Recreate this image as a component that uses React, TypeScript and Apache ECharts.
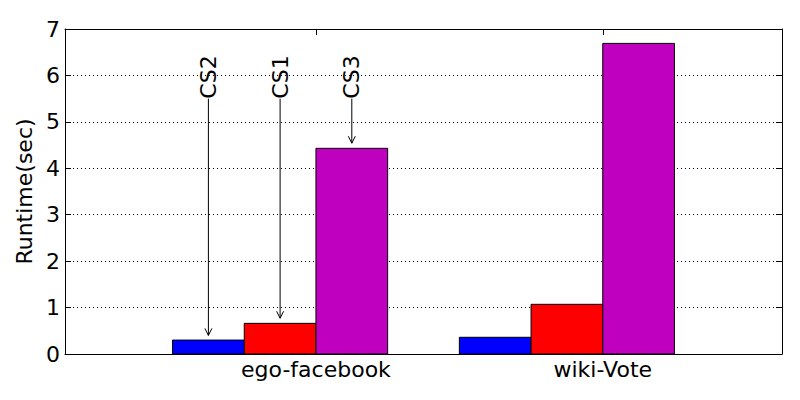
import React, { useEffect, useRef } from "react";
import * as echarts from "echarts";

const categories = ["ego-facebook", "wiki-Vote"];
const categoryTicks = [0.875, 1.875];
const groupStarts = [0.375, 1.375];
const barUnit = 0.25;
const seriesNames = ["CS2", "CS1", "CS3"];
const seriesColors = ["#0000ff", "#ff0000", "#bf00bf"];
const cs2Values = [0.3, 0.36];
const cs1Values = [0.66, 1.07];
const cs3Values = [4.43, 6.69];
const annotLabels = ["CS2", "CS1", "CS3"];
const annotX = [0.5, 0.75, 1.0];
const annotTextY = [5.5, 5.5, 5.5];
const annotTipY = [0.4, 0.77, 4.54];
const yTicks = [0, 1, 2, 3, 4, 5, 6, 7];

const FONT = "DejaVu Sans";
const FS = 22;

export default function App() {
  const ref = useRef<HTMLDivElement>(null);
  useEffect(() => {
    if (!ref.current) return;
    const chart = echarts.init(ref.current, null, { renderer: "svg" });
    const allValues = [cs2Values, cs1Values, cs3Values];
    const barSeries = allValues.map((vals, k) => ({
      type: "custom",
      name: seriesNames[k],
      xAxisIndex: 0,
      yAxisIndex: 0,
      data: groupStarts.map((g, i) => [g + k * barUnit, vals[i]]),
      encode: { x: 0, y: 1 },
      renderItem: (params: any, api: any) => {
        const x0 = api.value(0);
        const v = api.value(1);
        const p0 = api.coord([x0, v]);
        const p1 = api.coord([x0 + barUnit, 0]);
        return {
          type: "rect",
          shape: { x: p0[0], y: p0[1], width: p1[0] - p0[0], height: p1[1] - p0[1] },
          style: { fill: seriesColors[k], stroke: "#000", lineWidth: 1 },
        };
      },
    }));
    const annotSeries = {
      type: "custom",
      xAxisIndex: 0,
      yAxisIndex: 0,
      z: 10,
      data: annotX.map((x, i) => [x, annotTextY[i], annotTipY[i], i]),
      encode: { x: 0, y: 1 },
      renderItem: (params: any, api: any) => {
        const x = api.value(0);
        const pt = api.coord([x, api.value(1)]);
        const tip = api.coord([x, api.value(2)]);
        const idx = api.value(3);
        return {
          type: "group",
          children: [
            {
              type: "line",
              shape: { x1: pt[0], y1: pt[1], x2: tip[0], y2: tip[1] },
              style: { stroke: "#000", lineWidth: 1 },
            },
            {
              type: "polyline",
              shape: {
                points: [
                  [tip[0] - 3.5, tip[1] - 7],
                  [tip[0], tip[1]],
                  [tip[0] + 3.5, tip[1] - 7],
                ],
              },
              style: { stroke: "#000", lineWidth: 1, fill: "none" },
            },
            {
              type: "text",
              x: pt[0],
              y: pt[1],
              rotation: Math.PI / 2,
              style: {
                text: annotLabels[idx],
                fontSize: FS,
                fontFamily: FONT,
                fill: "#000",
                align: "left",
                verticalAlign: "middle",
              },
            },
          ],
        };
      },
    };
    const tickStyle = { color: "#000", width: 1 };
    chart.setOption({
      animation: false,
      backgroundColor: "#fff",
      textStyle: { fontFamily: FONT },
      grid: { left: 65, right: 18, top: 29, bottom: 46, containLabel: false },
      xAxis: [
        {
          type: "value",
          position: "bottom",
          min: 0,
          max: 2.5,
          axisLine: { show: true, onZero: false, lineStyle: tickStyle },
          axisTick: { show: true, inside: true, length: 6, customValues: categoryTicks, lineStyle: tickStyle },
          axisLabel: {
            customValues: categoryTicks,
            formatter: (v: number) => {
              const i = categoryTicks.findIndex((t) => Math.abs(t - v) < 1e-6);
              return i >= 0 ? categories[i] : "";
            },
            fontSize: FS,
            color: "#000",
            margin: 4,
            fontFamily: FONT,
          },
          splitLine: { show: false },
        },
        {
          type: "value",
          position: "top",
          min: 0,
          max: 2.5,
          axisLine: { show: true, onZero: false, lineStyle: tickStyle },
          axisTick: { show: true, inside: true, length: 6, customValues: categoryTicks, lineStyle: tickStyle },
          axisLabel: { show: false },
          splitLine: { show: false },
        },
      ],
      yAxis: [
        {
          type: "value",
          position: "left",
          min: 0,
          max: 7,
          interval: 1,
          axisLine: { show: true, onZero: false, lineStyle: tickStyle },
          axisTick: { show: true, inside: true, length: 6, lineStyle: tickStyle },
          axisLabel: {
            fontSize: FS,
            color: "#000",
            margin: 5,
            fontFamily: FONT,
            formatter: (v: number) => (yTicks.includes(v) ? String(v) : ""),
          },
          splitLine: { show: true, lineStyle: { type: [1, 3], color: "#000", width: 1 } },
          name: "Runtime(sec)",
          nameLocation: "middle",
          nameGap: 28,
          nameTextStyle: { fontSize: FS, color: "#000", fontFamily: FONT },
        },
        {
          type: "value",
          position: "right",
          min: 0,
          max: 7,
          interval: 1,
          axisLine: { show: true, onZero: false, lineStyle: tickStyle },
          axisTick: { show: true, inside: true, length: 6, lineStyle: tickStyle },
          axisLabel: { show: false },
          splitLine: { show: false },
        },
      ],
      series: [...barSeries, annotSeries],
    });
    return () => chart.dispose();
  }, []);
  return (
    <div
      ref={ref}
      style={{ position: "fixed", left: 0, top: 0, width: 800, height: 400 }}
    />
  );
}
